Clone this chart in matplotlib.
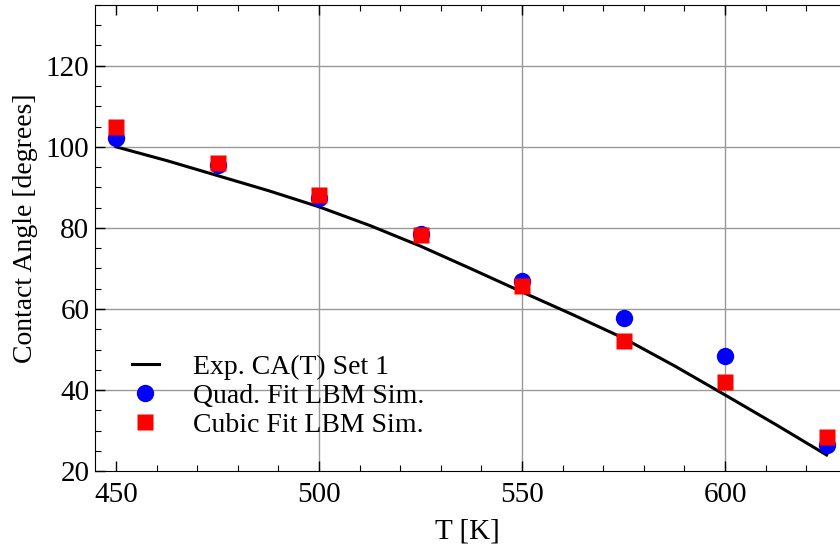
import matplotlib
matplotlib.use("Agg")
import matplotlib.pyplot as plt
from matplotlib.ticker import MultipleLocator

plt.rcParams['font.family'] = ['Liberation Serif', 'DejaVu Serif']

# experimental curve
T_exp = [450, 462.5, 475, 487.5, 500, 512.5, 525, 537.5, 550, 562.5, 575, 587.5, 600, 612.5, 625]
ca_exp = [100.0, 96.6, 92.9, 89.2, 85.2, 80.6, 75.5, 69.9, 64.2, 58.6, 52.8, 46.0, 38.8, 31.5, 24.0]

# simulation points
T_sim = [450, 475, 500, 525, 550, 575, 600, 625]
ca_quad = [102.3, 95.6, 87.5, 78.6, 66.8, 57.7, 48.3, 26.4]
ca_cubic = [104.9, 96.0, 88.0, 78.3, 65.6, 52.1, 42.1, 28.5]

fig = plt.figure(figsize=(8.4, 5.46), dpi=100)
ax = fig.add_axes([0.113, 0.137, 0.887, 0.854])

ax.plot(T_exp, ca_exp, color='black', lw=2.2, label='Exp. CA(T) Set 1', zorder=3)
ax.plot(T_sim, ca_quad, 'o', color='blue', ms=12.5, mec='none', label='Quad. Fit LBM Sim.', zorder=4)
ax.plot(T_sim, ca_cubic, 's', color='red', ms=11.5, mec='none', label='Cubic Fit LBM Sim.', zorder=5)

ax.set_xlim(444.8, 628.3)
ax.set_ylim(20, 135)
ax.spines['right'].set_visible(False)

ax.xaxis.set_major_locator(MultipleLocator(50))
ax.xaxis.set_minor_locator(MultipleLocator(10))
ax.yaxis.set_major_locator(MultipleLocator(20))
ax.yaxis.set_minor_locator(MultipleLocator(5))
ax.tick_params(which='both', direction='in', top=True, right=False, labelsize=21)
ax.tick_params(which='major', length=7, width=1)
ax.tick_params(which='minor', length=4, width=0.8)
ax.tick_params(axis='x', pad=8)
ax.tick_params(axis='y', pad=4)

# grid lines
for x in [500, 550, 600]:
    ax.axvline(x, color='#999999', lw=1, zorder=1)
for y in [40, 60, 80, 100, 120]:
    ax.axhline(y, color='#999999', lw=1, zorder=1)

ax.set_xlabel('T [K]', fontsize=21, labelpad=7)
ax.set_ylabel('Contact Angle [degrees]', fontsize=20)
ax.yaxis.set_label_coords(-0.077, 0.52)

ax.legend(loc='lower left', bbox_to_anchor=(0.023, 0.03), frameon=False, fontsize=20,
          handlelength=1.0, handletextpad=1.2, labelspacing=0.12, borderaxespad=0.3,
          numpoints=1)

fig.savefig('out.png', dpi=100)
